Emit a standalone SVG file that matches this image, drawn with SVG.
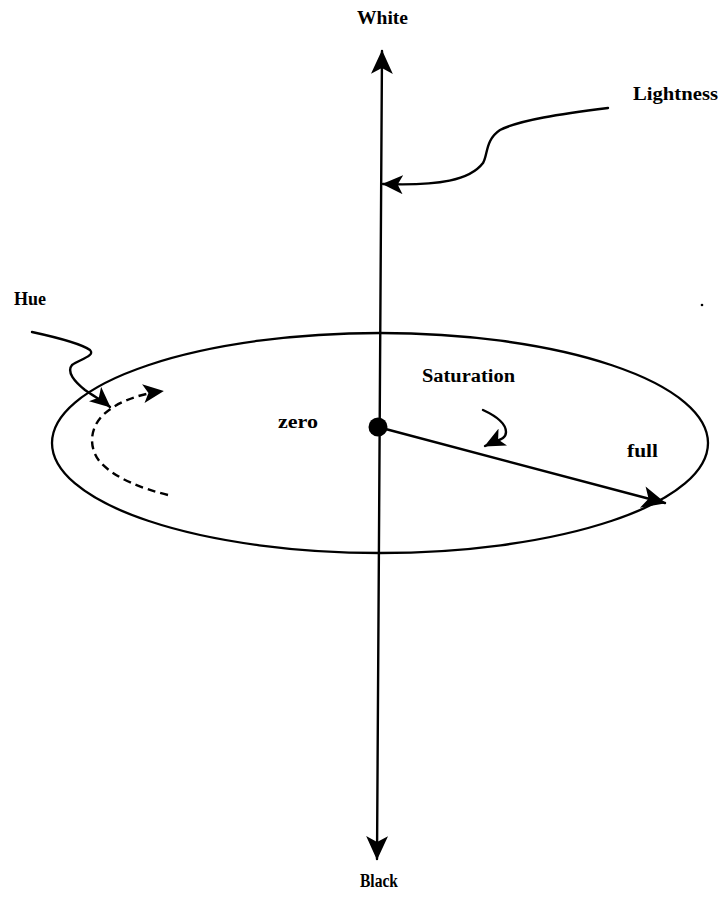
<svg xmlns="http://www.w3.org/2000/svg" width="725" height="899" viewBox="0 0 725 899">
<style>
  .lbl { font-family: "Liberation Serif", "Times New Roman", serif; font-weight: bold; font-size: 18px; fill: #000; }
  .ln { fill: none; stroke: #000; stroke-width: 2.4; stroke-linecap: round; stroke-linejoin: round; }
  .dash { stroke-dasharray: 8 5; stroke-linecap: butt; }
</style>
<defs>
  <marker id="arrow" viewBox="0 0 24 22" refX="23" refY="11" markerWidth="25" markerHeight="22" markerUnits="userSpaceOnUse" orient="auto-start-reverse">
    <path d="M0,0 L24,11 L0,22 L6,11 Z" fill="#000"/>
  </marker>
  <marker id="arrowS" viewBox="0 0 24 22" refX="23" refY="11" markerWidth="21" markerHeight="19" markerUnits="userSpaceOnUse" orient="auto">
    <path d="M0,0 L24,11 L0,22 L6,11 Z" fill="#000"/>
  </marker>
</defs>

<g id="ellipse">
  <ellipse cx="380" cy="443" rx="328" ry="110" fill="none" stroke="#000" stroke-width="2.3"/>
</g>

<g id="connectors">
  <line id="axis" class="ln" x1="382" y1="51" x2="377" y2="859" stroke-width="2.6" marker-start="url(#arrow)" marker-end="url(#arrow)"/>
  <path id="lightness-arrow" class="ln" d="M608,108 C560,114 520,120 500,130 C485,140 488,155 483,163 C470,180 440,186 383,184" marker-end="url(#arrowS)"/>
  <line id="saturation-radius" class="ln" x1="378" y1="427" x2="665" y2="503" marker-end="url(#arrow)"/>
  <path id="saturation-curl" class="ln" d="M483,410 C496,416 506,424 506,432 C506,440 497,440 485,446" marker-end="url(#arrowS)"/>
  <path id="hue-arrow" class="ln" d="M32,332 C55,337 80,343 90,350 C96,356 78,360 72,365 C66,372 75,382 85,390 C95,397 103,401 110,407" marker-end="url(#arrowS)"/>
  <path id="hue-dashed" class="ln dash" d="M168,495 C140,488 115,478 100,462 C88,447 90,428 103,415 C118,401 140,394 163,391" marker-end="url(#arrowS)"/>
</g>

<g id="center-dot">
  <circle cx="378" cy="427" r="9.5" fill="#000"/>
</g>

<g id="label-white"><text class="lbl" x="357" y="24" textLength="51" lengthAdjust="spacingAndGlyphs">White</text></g>
<g id="label-lightness"><text class="lbl" x="633" y="100" textLength="85" lengthAdjust="spacingAndGlyphs">Lightness</text></g>
<g id="label-hue"><text class="lbl" x="14" y="305" textLength="32" lengthAdjust="spacingAndGlyphs">Hue</text></g>
<g id="label-saturation"><text class="lbl" x="422" y="382" textLength="93" lengthAdjust="spacingAndGlyphs">Saturation</text></g>
<g id="label-zero"><text class="lbl" x="278" y="428" textLength="40" lengthAdjust="spacingAndGlyphs">zero</text></g>
<g id="label-full"><text class="lbl" x="627" y="457" textLength="31" lengthAdjust="spacingAndGlyphs">full</text></g>
<g id="label-black"><text class="lbl" x="360" y="887" textLength="38" lengthAdjust="spacingAndGlyphs">Black</text></g>

<circle cx="702" cy="305" r="1.3" fill="#000"/>
</svg>
